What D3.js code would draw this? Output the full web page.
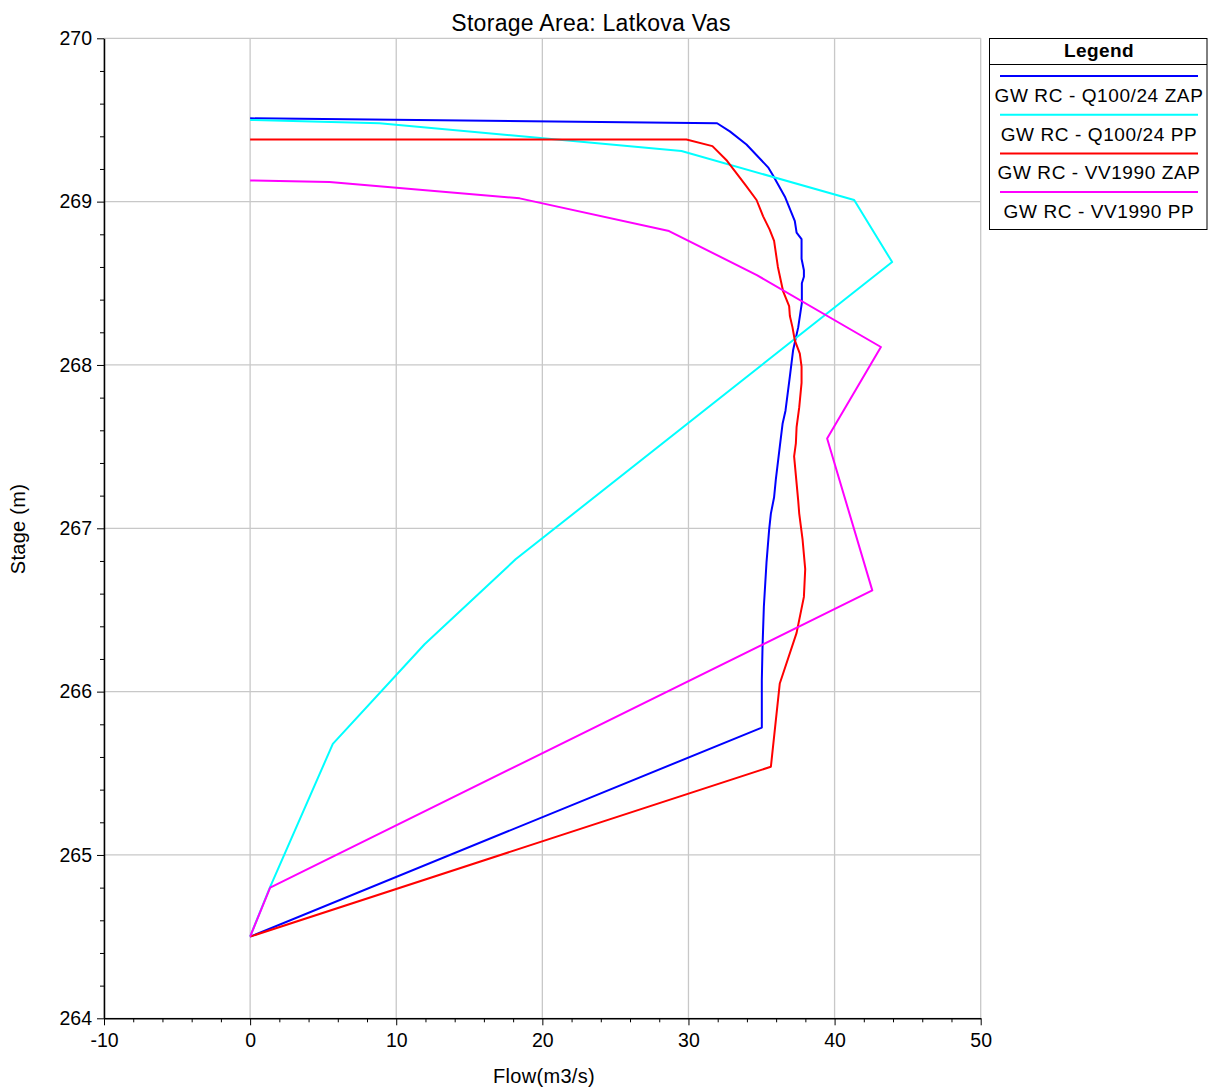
<!DOCTYPE html>
<html>
<head>
<meta charset="utf-8">
<script src="https://cdn.jsdelivr.net/npm/d3@7/dist/d3.min.js"></script>
<style>
  html, body { margin: 0; padding: 0; background: #fff; }
  svg { display: block; font-family: "Liberation Sans", Arial, sans-serif; }
</style>
</head>
<body>
<svg id="chart" width="1208" height="1087"></svg>
<script>
// Rating curves for storage area Latkova Vas: flow (m3/s) vs stage (m)
const seriesNames = ["GW RC - Q100/24 ZAP", "GW RC - Q100/24 PP", "GW RC - VV1990 ZAP", "GW RC - VV1990 PP"];
const seriesColors = ["#0000ff", "#00ffff", "#ff0000", "#ff00ff"];

const flowQ100Zap = [0, 31.96, 32.83, 33.97, 35.45, 35.79, 36.60, 37.28, 37.40, 37.74, 37.74, 37.90, 37.90, 37.76, 37.76, 37.51, 37.16, 36.94, 36.64, 36.44, 36.25, 35.98, 35.86, 35.64, 35.52, 35.34, 35.16, 35.07, 35.02, 35.02, 0];
const stageQ100Zap = [269.51, 269.48, 269.43, 269.35, 269.21, 269.16, 269.03, 268.88, 268.81, 268.77, 268.65, 268.58, 268.54, 268.50, 268.38, 268.23, 268.09, 267.93, 267.72, 267.64, 267.50, 267.30, 267.19, 267.09, 266.99, 266.79, 266.52, 266.28, 266.07, 265.78, 264.50];

const flowQ100Pp = [0, 8.86, 29.52, 41.34, 43.94, 18.17, 11.94, 5.66, 1.35, 0];
const stageQ100Pp = [269.50, 269.48, 269.31, 269.01, 268.63, 266.81, 266.29, 265.68, 264.80, 264.50];

const flowVv1990Zap = [0, 29.86, 31.64, 32.64, 33.92, 34.66, 35.11, 35.55, 35.86, 36.12, 36.48, 36.71, 36.89, 36.94, 37.12, 37.28, 37.62, 37.74, 37.74, 37.58, 37.40, 37.35, 37.23, 37.51, 37.58, 37.81, 37.99, 37.90, 37.40, 36.25, 35.64, 0];
const stageVv1990Zap = [269.38, 269.38, 269.34, 269.25, 269.10, 269.01, 268.91, 268.83, 268.76, 268.60, 268.45, 268.40, 268.36, 268.30, 268.23, 268.15, 268.07, 267.99, 267.89, 267.74, 267.62, 267.52, 267.44, 267.17, 267.09, 266.93, 266.75, 266.58, 266.36, 266.05, 265.54, 264.50];

const flowVv1990Pp = [0, 5.43, 18.45, 28.67, 34.68, 43.17, 39.49, 42.58, 1.37, 0];
const stageVv1990Pp = [269.13, 269.12, 269.02, 268.82, 268.55, 268.11, 267.55, 266.62, 264.80, 264.50];

const flowTicks = [-10, 0, 10, 20, 30, 40, 50];
const stageTicks = [264, 265, 266, 267, 268, 269, 270];

const flows = [flowQ100Zap, flowQ100Pp, flowVv1990Zap, flowVv1990Pp];
const stages = [stageQ100Zap, stageQ100Pp, stageVv1990Zap, stageVv1990Pp];

const svg = d3.select("#chart");
const plotLeft = 104, plotRight = 980.7, plotTop = 38.3, plotBottom = 1018.3;

const x = d3.scaleLinear().domain([-10, 50]).range([plotLeft, plotRight]);
const y = d3.scaleLinear().domain([264, 270]).range([plotBottom, plotTop]);

// grid
const grid = svg.append("g").attr("stroke", "#c8c8c8").attr("stroke-width", 1.3);
grid.selectAll("line.gx").data(flowTicks).join("line").attr("class", "gx")
  .attr("x1", d => x(d)).attr("x2", d => x(d)).attr("y1", plotTop).attr("y2", plotBottom);
grid.selectAll("line.gy").data(stageTicks).join("line").attr("class", "gy")
  .attr("y1", d => y(d)).attr("y2", d => y(d)).attr("x1", plotLeft).attr("x2", plotRight);

// minor ticks
const minorX = d3.range(-10, 50.001, 2).filter(v => !flowTicks.includes(v));
const minorY = d3.range(264, 270.001, 0.2).map(v => +v.toFixed(1)).filter(v => !stageTicks.includes(v));
svg.append("g").attr("transform", `translate(0,${plotBottom})`)
  .call(d3.axisBottom(x).tickValues(minorX).tickSize(4).tickFormat(""))
  .call(g => g.select(".domain").remove());
svg.append("g").attr("transform", `translate(${plotLeft},0)`)
  .call(d3.axisLeft(y).tickValues(minorY).tickSize(4).tickFormat(""))
  .call(g => g.select(".domain").remove());

// main axes (plain hyphen for negative numbers)
const plainFormat = d => String(d);
const xAxis = svg.append("g").attr("transform", `translate(0,${plotBottom})`)
  .call(d3.axisBottom(x).tickValues(flowTicks).tickSize(7).tickSizeOuter(0).tickPadding(8).tickFormat(plainFormat));
xAxis.selectAll("text").attr("font-size", 19.5).attr("fill", "#000").attr("font-family", "Liberation Sans, Arial, sans-serif");
xAxis.select(".domain").attr("stroke-width", 1.5);

const yAxis = svg.append("g").attr("transform", `translate(${plotLeft},0)`)
  .call(d3.axisLeft(y).tickValues(stageTicks).tickSize(7).tickSizeOuter(0).tickPadding(5).tickFormat(plainFormat));
yAxis.selectAll("text").attr("font-size", 19.5).attr("fill", "#000").attr("font-family", "Liberation Sans, Arial, sans-serif");
yAxis.select(".domain").attr("stroke-width", 1.5);

// curves
const line = d3.line().x(d => x(d[0])).y(d => y(d[1]));
const plot = svg.append("g");
flows.forEach((fl, i) => {
  plot.append("path")
    .datum(fl.map((f, j) => [f, stages[i][j]]))
    .attr("fill", "none")
    .attr("stroke", seriesColors[i])
    .attr("stroke-width", 2)
    .attr("stroke-linejoin", "round")
    .attr("d", line);
});

// titles
svg.append("text").attr("x", 591).attr("y", 31).attr("text-anchor", "middle")
  .attr("font-size", 23).attr("letter-spacing", 0.3).text("Storage Area: Latkova Vas");
svg.append("text").attr("x", 544).attr("y", 1083).attr("text-anchor", "middle")
  .attr("font-size", 20).attr("letter-spacing", 0.3).text("Flow(m3/s)");
svg.append("text").attr("transform", "translate(25,529) rotate(-90)").attr("text-anchor", "middle")
  .attr("font-size", 20).attr("letter-spacing", 0.3).text("Stage (m)");

// legend
const lg = svg.append("g");
lg.append("rect").attr("x", 989.5).attr("y", 38.5).attr("width", 217.5).attr("height", 191)
  .attr("fill", "#fff").attr("stroke", "#000").attr("stroke-width", 1);
lg.append("line").attr("x1", 989.5).attr("x2", 1207).attr("y1", 64.5).attr("y2", 64.5).attr("stroke", "#000");
lg.append("text").attr("x", 1099).attr("y", 57).attr("text-anchor", "middle")
  .attr("font-size", 19).attr("font-weight", "bold").attr("letter-spacing", 0.4).text("Legend");
seriesNames.forEach((name, i) => {
  const yy = 76 + i * 38.7;
  lg.append("line").attr("x1", 1000).attr("x2", 1198).attr("y1", yy).attr("y2", yy)
    .attr("stroke", seriesColors[i]).attr("stroke-width", 2);
  lg.append("text").attr("x", 1099).attr("y", yy + 26).attr("text-anchor", "middle")
    .attr("font-size", 19).attr("letter-spacing", 0.6).text(name);
});
</script>
</body>
</html>
